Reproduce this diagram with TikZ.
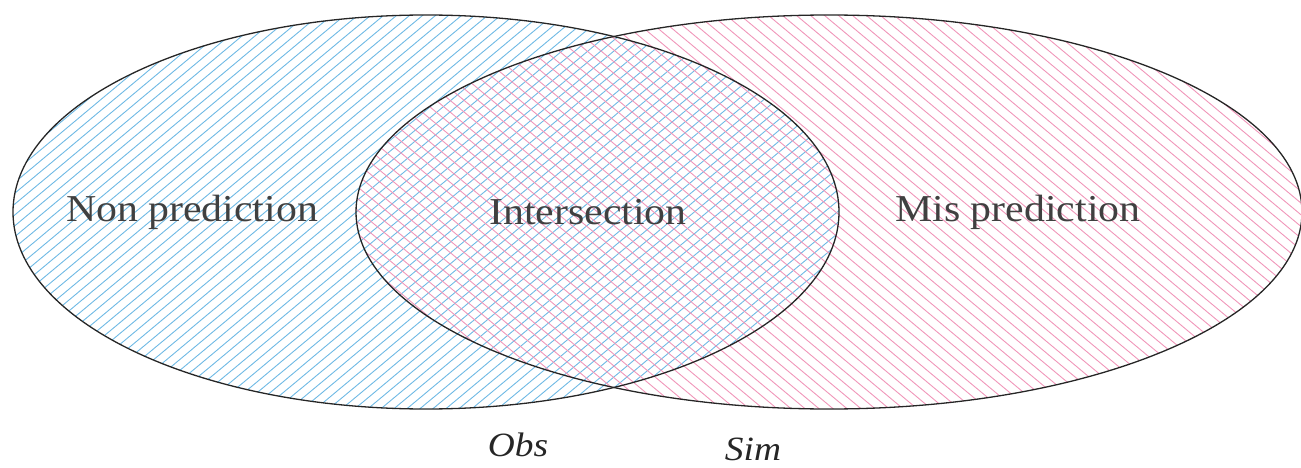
\documentclass[tikz,border=0pt]{standalone}
\usepackage{fontspec}
\newfontfamily\labfont[FakeStretch=1.1]{Liberation Serif}
\definecolor{hblue}{RGB}{110,185,228}
\definecolor{hpink}{RGB}{240,150,185}
\begin{document}
\begin{tikzpicture}[x=1pt,y=-1pt,
  bluehatch/.style={draw=hblue,line width=0.9pt},
  pinkhatch/.style={draw=hpink,line width=0.9pt},
  outline/.style={draw=black!85,line width=1.3pt},
  lab/.style={font=\labfont\fontsize{38}{38}\selectfont,text=black!75,inner sep=0pt},
  setlab/.style={font=\labfont\itshape\fontsize{34}{34}\selectfont,text=black!85,inner sep=0pt}]
\useasboundingbox (0,0) rectangle (1301,468);
\begin{scope}
  \clip (426,212) ellipse [x radius=413, y radius=197];
  \foreach \i in {-600,-587,...,900} \draw[bluehatch] (\i,468) -- (\i+560,0);
\end{scope}
\begin{scope}
  \clip (829,212) ellipse [x radius=473, y radius=197];
  \foreach \i in {-300,-286,...,1320} \draw[pinkhatch] (\i,0) -- (\i+560,468);
\end{scope}
\draw[outline] (426,212) ellipse [x radius=413, y radius=197];
\draw[outline] (829,212) ellipse [x radius=473, y radius=197];
\node[lab] (non) at (192,212) {Non prediction};
\node[lab] (inter) at (588,212) {Intersection};
\node[lab] (mis) at (1018,212) {Mis prediction};
\node[setlab] (obs) at (518,445) {Obs};
\node[setlab] (sim) at (753,449) {Sim};
\end{tikzpicture}
\end{document}
